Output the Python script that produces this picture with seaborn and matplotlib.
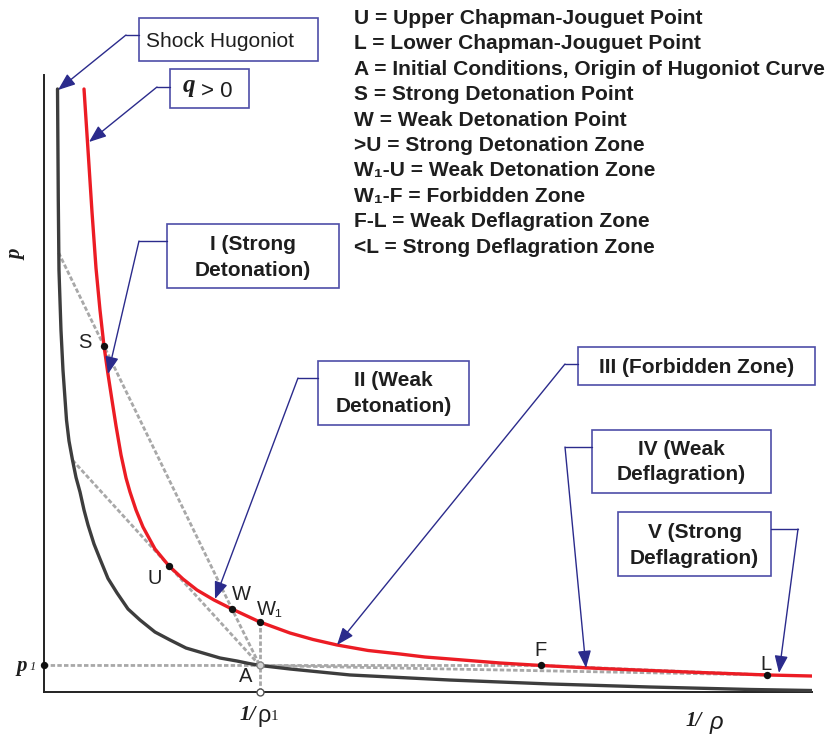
import numpy as np
import pandas as pd
import matplotlib
matplotlib.use("Agg")
import matplotlib.pyplot as plt
import seaborn as sns
from matplotlib.patches import Rectangle
from matplotlib.lines import Line2D

# ---------------- data (x = specific volume 1/rho, y = pressure p, arbitrary units) ----------------
# shock Hugoniot (inert)
hug_x = [0.176, 0.186, 0.195, 0.221, 0.247, 0.293, 0.3255, 0.371, 0.417, 0.469, 0.521, 0.573,
         0.651, 0.729, 0.833, 0.951, 1.094, 1.250, 1.445, 1.641, 1.849, 2.070, 2.292, 2.513,
         2.656, 2.810, 3.203, 3.984, 5.286, 6.589, 7.891, 9.193, 10.0]
hug_y = [9.773, 7.974, 6.839, 5.867, 5.219, 4.408, 4.068, 3.760, 3.477, 3.241, 2.950, 2.707,
         2.399, 2.156, 1.840, 1.605, 1.345, 1.167, 0.972, 0.843, 0.713, 0.632, 0.551, 0.502,
         0.465, 0.430, 0.373, 0.276, 0.194, 0.130, 0.081, 0.041, 0.024]
# reactive Hugoniot (q > 0)
rh_x = [0.521, 0.573, 0.625, 0.677, 0.729, 0.781, 0.833, 0.885, 0.938, 1.003, 1.068, 1.120,
        1.198, 1.289, 1.445, 1.628, 1.810, 1.992, 2.214, 2.448, 2.810, 3.203, 3.503, 3.815,
        4.219, 4.635, 4.961, 5.286, 5.938, 6.471, 7.240, 7.891, 8.542, 9.414, 10.0]
rh_y = [9.773, 8.784, 7.780, 6.872, 6.191, 5.608, 5.154, 4.733, 4.311, 3.841, 3.468, 3.241,
        2.950, 2.674, 2.318, 2.042, 1.831, 1.653, 1.491, 1.345, 1.135, 0.956, 0.851, 0.762,
        0.673, 0.616, 0.567, 0.535, 0.470, 0.430, 0.381, 0.348, 0.316, 0.276, 0.259]
# named points
pt_names = ["S", "U", "W", "W1", "A", "F", "L"]
pt_x = [0.781, 1.628, 2.448, 2.810, 2.810, 6.471, 9.414]
pt_y = [5.608, 2.042, 1.345, 1.135, 0.430, 0.430, 0.276]
p1 = 0.430
v1 = 2.810
# where the Rayleigh lines through A meet the shock Hugoniot
ray_s_start = (0.190, 7.120)
ray_u_start = (0.371, 3.757)

legend_lines = ["U = Upper Chapman-Jouguet Point",
                "L = Lower Chapman-Jouguet Point",
                "A = Initial Conditions, Origin of Hugoniot Curve",
                "S = Strong Detonation Point",
                "W = Weak Detonation Point",
                ">U = Strong Detonation Zone",
                "W\u2081-U = Weak Detonation Zone",
                "W\u2081-F = Forbidden Zone",
                "F-L = Weak Deflagration Zone",
                "<L = Strong Deflagration Zone"]

# ---------------- style ----------------
sns.set_theme(style="white")
plt.rcParams["font.family"] = ["Liberation Sans", "DejaVu Sans"]
SANS = ["Liberation Sans", "DejaVu Sans"]
SERIF = ["Liberation Serif", "DejaVu Serif"]
RED = "#ec1c24"
DARK = "#3d3d3d"
GRAY = "#a8a8a8"
BOXC = "#4e4ea8"
ARROW = "#2b2b8c"
TXT = "#1e1e1e"

W, H = 833, 736
fig = plt.figure(figsize=(W / 100, H / 100), dpi=100)
fig.patch.set_facecolor("white")
ax = fig.add_axes([44 / W, (H - 692) / H, (812 - 44) / W, (692 - 75) / H])
ax.set_xlim(0, 10)
ax.set_ylim(0, 10)
ax.set_xticks([])
ax.set_yticks([])
for s in ["top", "right"]:
    ax.spines[s].set_visible(False)
for s in ["left", "bottom"]:
    ax.spines[s].set_color("#222222")
    ax.spines[s].set_linewidth(1.4)
ax.set_facecolor("white")

P = dict(zip(pt_names, zip(pt_x, pt_y)))
dash = (0, (1.6, 0.8))

# construction (Rayleigh) lines
ax.plot([ray_s_start[0], P["S"][0], P["W"][0], P["A"][0]],
        [ray_s_start[1], P["S"][1], P["W"][1], P["A"][1]], ls=dash, color=GRAY, lw=2.0, zorder=2)
ax.plot([ray_u_start[0], P["U"][0], P["A"][0]],
        [ray_u_start[1], P["U"][1], P["A"][1]], ls=dash, color=GRAY, lw=2.0, zorder=2)
ax.plot([0, P["A"][0], P["F"][0], P["L"][0]], [p1, p1, P["F"][1], P["L"][1]],
        ls=dash, color=GRAY, lw=2.0, zorder=2, clip_on=False)
ax.plot([P["A"][0], P["L"][0]], [P["A"][1], P["L"][1]], ls=dash, color=GRAY, lw=2.0, zorder=2)
ax.plot([v1, v1], [0, P["W1"][1]], ls=dash, color=GRAY, lw=2.0, zorder=2, clip_on=False)

# curves
sns.lineplot(data=pd.DataFrame({"v": hug_x, "p": hug_y}), x="v", y="p", sort=False,
             estimator=None, color=DARK, lw=2.4, ax=ax, zorder=3)
sns.lineplot(data=pd.DataFrame({"v": rh_x, "p": rh_y}), x="v", y="p", sort=False,
             estimator=None, color=RED, lw=2.4, ax=ax, zorder=4)
for ln in ax.lines[-2:]:
    ln.set_solid_joinstyle("round")
ax.set_xlabel("")
ax.set_ylabel("")

# points
solid = [n for n in pt_names if n != "A"]
sns.scatterplot(x=[P[n][0] for n in solid] + [0], y=[P[n][1] for n in solid] + [p1],
                color="#111111", s=28, linewidth=0, ax=ax, zorder=6, clip_on=False)
ax.plot([P["A"][0]], [P["A"][1]], "o", ms=5, mfc="#d4d4d4", mec="#8a8a8a", mew=1.0, zorder=6)
ax.plot([v1], [0], "o", ms=5, mfc="white", mec="#555555", mew=1.0, zorder=6, clip_on=False)


# ---------------- annotation helpers (figure pixel positions, y from top) ----------------
def fx(x):
    return x / W


def fy(y):
    return 1 - y / H


def text(x, y, s, **kw):
    kw.setdefault("color", TXT)
    kw.setdefault("family", SANS)
    fig.text(fx(x), fy(y), s, **kw)


def box(x0, y0, x1, y1):
    fig.add_artist(Rectangle((fx(x0), fy(y1)), (x1 - x0) / W, (y1 - y0) / H,
                             transform=fig.transFigure, fc="white", ec=BOXC, lw=1.2, zorder=7))


def callout(edge, elbow, tip):
    fig.add_artist(Line2D([fx(edge[0]), fx(elbow[0])], [fy(edge[1]), fy(elbow[1])],
                          transform=fig.transFigure, color=ARROW, lw=1.0, zorder=7))
    ax.annotate("", xy=(tip[0], H - tip[1]), xycoords="figure pixels",
                xytext=(elbow[0], H - elbow[1]), textcoords="figure pixels",
                arrowprops=dict(arrowstyle="-|>,head_length=0.7,head_width=0.27", color=ARROW,
                                lw=1.0, shrinkA=0, shrinkB=0, mutation_scale=15), zorder=8)


# Shock Hugoniot
box(139, 18, 318, 61)
text(146, 47, "Shock Hugoniot", fontsize=15, va="baseline", ha="left", zorder=9)
callout((139, 35), (126, 35), (58, 90))
# q > 0
box(170, 69, 249, 108)
text(183, 92, "q", fontsize=18, va="baseline", ha="left", family=SERIF, weight="bold",
     style="italic", zorder=9)
text(201, 97, "> 0", fontsize=16, va="baseline", ha="left", zorder=9)
callout((170, 87), (157, 87), (89, 142))

# zone boxes
zone_boxes = [
    ((167, 224, 339, 288), ["I (Strong", "Detonation)"], 250.5, ((167, 241), (139, 241), (108, 374))),
    ((318, 361, 469, 425), ["II (Weak", "Detonation)"], 386.5, ((318, 378), (298, 378), (215, 599))),
    ((578, 347, 815, 385), ["III (Forbidden Zone)"], 373, ((578, 364), (565, 364), (337, 645))),
    ((592, 430, 771, 493), ["IV (Weak", "Deflagration)"], 455, ((592, 447), (565, 447), (586, 668))),
    ((618, 512, 771, 576), ["V (Strong", "Deflagration)"], 538, ((771, 529), (798, 529), (779, 673))),
]
for (x0, y0, x1, y1), lines, base, (edge, elbow, tip) in zone_boxes:
    box(x0, y0, x1, y1)
    for i, ln in enumerate(lines):
        text((x0 + x1) / 2, base + 25.5 * i, ln, fontsize=15, weight="bold", ha="center",
             va="baseline", zorder=9)
    callout(edge, elbow, tip)

# legend block
for i, ln in enumerate(legend_lines):
    text(354, 24 + 25.4 * i, ln, fontsize=15.1, weight="bold", ha="left", va="baseline")

# point labels
lab_pos = {"S": (85, 343), "U": (155, 579), "W": (241, 594), "A": (246, 677),
           "F": (541, 651), "L": (766, 664)}
for n, (x, y) in lab_pos.items():
    text(x, y, n, fontsize=14.5, ha="center", va="center", color="#222222")
text(257, 615, "W\u2081", fontsize=14.5, ha="left", va="baseline", color="#222222")

# axis labels
text(16, 255, "p", fontsize=15, family=SERIF, weight="bold", style="italic", rotation=90,
     ha="center", va="center")
text(22, 666, "p", fontsize=15, family=SERIF, weight="bold", style="italic", ha="center",
     va="center")
text(33, 667, "1", fontsize=9, family=SERIF, style="italic", ha="center", va="center")
text(248, 715, "1/", fontsize=15, family=SERIF, weight="bold", style="italic", ha="center",
     va="center")
text(264, 716, "\u03c1", fontsize=17, ha="center", va="center")
text(274, 717, "1", fontsize=11, family=SERIF, ha="center", va="center")
text(694, 721, "1/", fontsize=15, family=SERIF, weight="bold", style="italic", ha="center",
     va="center")
text(716, 723, "\u03c1", fontsize=17, style="italic", ha="center", va="center")

fig.savefig("out.png", dpi=100)
